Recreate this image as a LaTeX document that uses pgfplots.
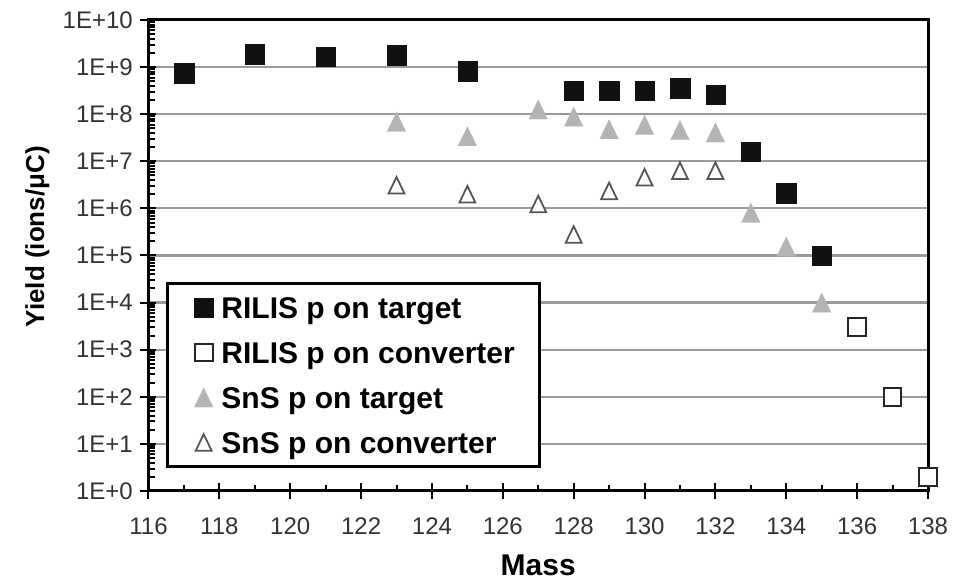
\documentclass[border=0pt]{standalone}
\usepackage{fontspec}
\setmainfont{Liberation Sans}
\usepackage{pgfplots}
\pgfplotsset{compat=1.18}
\definecolor{sqblack}{HTML}{111111}
\definecolor{trigray}{HTML}{B4B4B4}
\definecolor{gridgray}{HTML}{9A9A9A}
\definecolor{opengray}{HTML}{555555}
\definecolor{ticklab}{HTML}{333333}
\begin{document}
\begin{tikzpicture}
\path[use as bounding box] (-148.5pt,-92pt) rectangle (823.5pt,491pt);
\begin{axis}[
  at={(0,0)}, anchor=south west,
  scale only axis, width=779.5pt, height=471pt,
  xmin=116, xmax=138,
  ymode=log, log basis y=10, ymin=1, ymax=1e10,
  xtick={116,118,...,138},
  minor x tick num=1,
  ytick={1,10,100,1000,10000,100000,1000000,10000000,100000000,1000000000,10000000000},
  yticklabels={1E+0,1E+1,1E+2,1E+3,1E+4,1E+5,1E+6,1E+7,1E+8,1E+9,1E+10},
  minor ytick={2,3,4,5,6,7,8,9,
    2e1,3e1,4e1,5e1,6e1,7e1,8e1,9e1,
    2e2,3e2,4e2,5e2,6e2,7e2,8e2,9e2,
    2e3,3e3,4e3,5e3,6e3,7e3,8e3,9e3,
    2e4,3e4,4e4,5e4,6e4,7e4,8e4,9e4,
    2e5,3e5,4e5,5e5,6e5,7e5,8e5,9e5,
    2e6,3e6,4e6,5e6,6e6,7e6,8e6,9e6,
    2e7,3e7,4e7,5e7,6e7,7e7,8e7,9e7,
    2e8,3e8,4e8,5e8,6e8,7e8,8e8,9e8,
    2e9,3e9,4e9,5e9,6e9,7e9,8e9,9e9},
  /pgf/number format/assume math mode=true,
  tick pos=left,
  axis line style={line width=3pt},
  tick style={black, line width=2pt},
  tick align=inside,
  major tick length=16pt, minor tick length=6.5pt,
  major x tick style={yshift=-8pt},
  major y tick style={xshift=-8pt},
  ymajorgrids,
  major grid style={gridgray, line width=2.2pt},
  ticklabel style={font=\fontsize{24}{28}\selectfont, text=ticklab},
  xticklabel style={anchor=north, inner sep=0pt, yshift=-27pt},
  yticklabel style={anchor=east, inner sep=0pt, xshift=-15.5pt},
  xlabel={Mass},
  xlabel style={font=\fontsize{30}{36}\selectfont\bfseries, at={(axis description cs:0.5,0)}, anchor=north, inner sep=0pt, yshift=-64pt},
  ylabel={Yield (ions/μC)},
  ylabel style={font=\fontsize{26}{32}\selectfont\bfseries, at={(axis description cs:-0.1584,0.54)}, anchor=north, inner sep=0pt},
  clip=false,
  legend cell align=left,
  legend image code/.code={\draw[#1] plot coordinates {(10pt,0pt)}; \path (0pt,0pt) (26pt,0pt);},
  legend style={at={(axis description cs:0.02207,0.4444)}, anchor=north west,
    draw=black, line width=3.5pt, fill=white,
    inner xsep=24.5pt, inner ysep=13.25pt,
    font=\fontsize{30}{36}\selectfont\bfseries,
    row sep=23.5pt, column sep=0pt,
    nodes={inner sep=0pt, text height=21.5pt, text depth=0pt}},
]
\addplot[only marks, mark=square*, mark size=9.7pt,
  mark options={fill=sqblack, draw=sqblack, line width=0.2pt}]
  coordinates {(117,7.4e8) (119,1.9e9) (121,1.66e9) (123,1.8e9) (125,8.3e8)
  (128,3.2e8) (129,3.2e8) (130,3.2e8) (131,3.6e8) (132,2.6e8)
  (133,1.6e7) (134,2.1e6) (135,1.0e5)};
\addlegendentry{RILIS p on target}
\addplot[only marks, mark=square*, mark size=8.85pt,
  mark options={fill=white, draw=black!85, line width=2pt}]
  coordinates {(136,3000) (137,100) (138,2)};
\addlegendentry{RILIS p on converter}
\addplot[only marks, mark=triangle*, mark size=10.8pt,
  mark options={fill=trigray, draw=trigray, line width=0.2pt, yshift=-3.2pt, yscale=1.19}]
  coordinates {(123,6.9e7) (125,3.4e7) (127,1.26e8) (128,8.9e7) (129,4.8e7)
  (130,5.9e7) (131,4.6e7) (132,4.1e7) (133,8.1e5) (134,1.55e5) (135,1.0e4)};
\addlegendentry{SnS p on target}
\addplot[only marks, mark=triangle*, mark size=9.2pt,
  mark options={fill=white, draw=opengray, line width=1.8pt, yshift=-2.8pt, yscale=1.2}]
  coordinates {(123,3.1e6) (125,2.0e6) (127,1.24e6) (128,2.8e5) (129,2.36e6)
  (130,4.6e6) (131,6.3e6) (132,6.3e6)};
\addlegendentry{SnS p on converter}
\end{axis}
\end{tikzpicture}
\end{document}
